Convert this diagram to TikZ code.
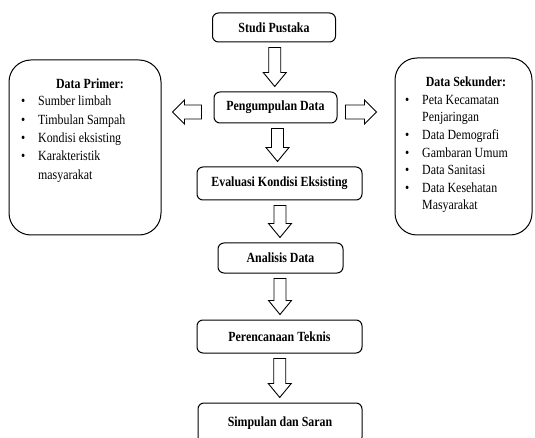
\documentclass[tikz,border=0pt]{standalone}
\usepackage{fontspec}
\setmainfont{Liberation Serif}[FakeStretch=0.85]
\usetikzlibrary{calc}
\tikzset{
  proc/.style={draw, line width=1pt, rounded corners=6pt, font=\bfseries\fontsize{14}{16}\selectfont, inner sep=0pt},
  side/.style={draw, line width=1pt, rounded corners=22pt, inner sep=0pt},
  blk/.style={draw, line width=0.9pt, fill=white, line join=miter},
  ttl/.style={font=\bfseries\fontsize{14}{16}\selectfont, inner sep=0pt},
  lst/.style={font=\fontsize{14}{18.3}\selectfont, align=left, inner sep=0pt, anchor=north west},
}
\newcommand\bul{\makebox[17pt][l]{\textbullet}}
\newcommand\ind{\hspace*{17pt}}
% vertical block arrow from node #1 down to node #2
\newcommand\varr[2]{%
  \draw[blk] let \p1=(#1.south), \p2=(#2.north), \n1={(\x1+\x2)/2} in
    (\n1-6pt,\y1-5pt) -- (\n1+6pt,\y1-5pt) -- (\n1+6pt,\y2+19pt) -- (\n1+11.5pt,\y2+19pt)
    -- (\n1,\y2+5pt) -- (\n1-11.5pt,\y2+19pt) -- (\n1-6pt,\y2+19pt) -- cycle;}
\begin{document}
\begin{tikzpicture}[x=1pt,y=-1pt]
\useasboundingbox (0,0) rectangle (535,438);
\clip (0,0) rectangle (535,438);
\fill[white] (0,0) rectangle (535,438);

% process boxes
\node[proc, minimum width=123pt, minimum height=29pt] (studi) at (274,27.5) {Studi Pustaka};
\node[proc, minimum width=123pt, minimum height=31pt] (peng) at (275.5,107.5) {Pengumpulan Data};
\node[proc, minimum width=165pt, minimum height=33pt] (eval) at (279.5,183.5) {Evaluasi Kondisi Eksisting};
\node[proc, minimum width=125pt, minimum height=30pt] (anal) at (280.5,258) {Analisis Data};
\node[proc, minimum width=165pt, minimum height=33pt] (pere) at (279.5,336.5) {Perencanaan Teknis};
\node[proc, minimum width=164pt, minimum height=40pt] (simp) at (280,423) {Simpulan dan Saran};

% side boxes
\node[side, minimum width=152pt, minimum height=175pt] (primer) at (85,147.5) {};
\node[side, minimum width=137pt, minimum height=177pt] (sekunder) at (463.5,146.5) {};

\node[ttl] (tprimer) at (90,84) {Data Primer:};
\node[lst] (lprimer) at (21,96) {\bul Sumber limbah\\
\bul Timbulan Sampah\\
\bul Kondisi eksisting\\
\bul Karakteristik\\
\ind masyarakat};

\node[ttl] (tsekunder) at (466,82) {Data Sekunder:};
\node[lst, font=\fontsize{14}{17.6}\selectfont] (lsekunder) at (405,95) {\bul Peta Kecamatan\\
\ind Penjaringan\\
\bul Data Demografi\\
\bul Gambaran Umum\\
\bul Data Sanitasi\\
\bul Data Kesehatan\\
\ind Masyarakat};

% vertical arrows
\varr{studi}{peng}
\varr{peng}{eval}
\varr{eval}{anal}
\varr{anal}{pere}
\varr{pere}{simp}

% horizontal arrows
\draw[blk] let \p1=(peng.west), \p2=(primer.east), \n1={\y1-4.5pt} in
  (\x1-12pt,\n1+7pt) -- (\x1-12pt,\n1-7pt) -- (\x2+23pt,\n1-7pt) -- (\x2+23pt,\n1-12pt)
  -- (\x2+11pt,\n1) -- (\x2+23pt,\n1+12pt) -- (\x2+23pt,\n1+7pt) -- cycle;
\draw[blk] let \p1=(peng.east), \p2=(sekunder.west), \n1={\y1-4.5pt} in
  (\x1+8pt,\n1+7pt) -- (\x1+8pt,\n1-7pt) -- (\x2-30pt,\n1-7pt) -- (\x2-30pt,\n1-12pt)
  -- (\x2-18pt,\n1) -- (\x2-30pt,\n1+12pt) -- (\x2-30pt,\n1+7pt) -- cycle;
\end{tikzpicture}
\end{document}
